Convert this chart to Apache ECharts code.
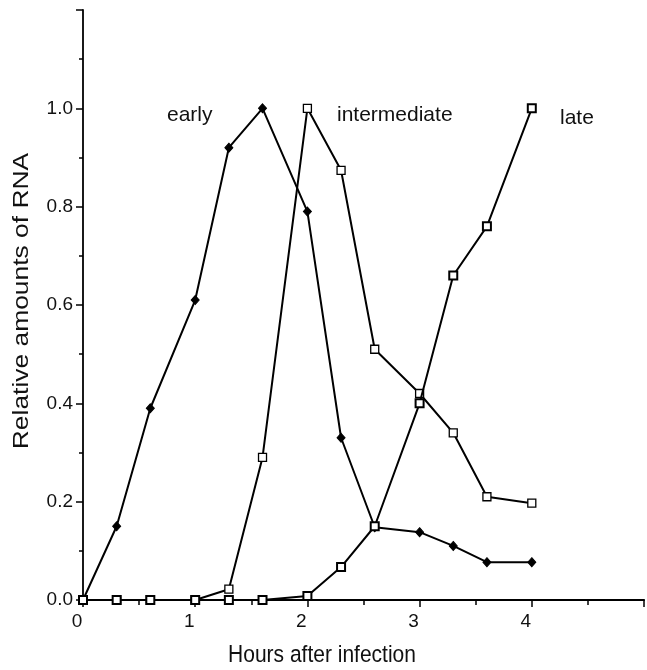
<!DOCTYPE html>
<html>
<head>
<meta charset="utf-8">
<script src="https://cdn.jsdelivr.net/npm/echarts@6/dist/echarts.min.js"></script>
<style>html,body{margin:0;padding:0;background:#fff;}#c{width:647px;height:670px;}</style>
</head>
<body>
<div id="c"></div>
<script>
// Hours after infection (sampling times)
var hours = [0, 0.3, 0.6, 1.0, 1.3, 1.6, 2.0, 2.3, 2.6, 3.0, 3.3, 3.6, 4.0];
// Relative amounts of RNA
var early        = [0, 0.15, 0.39, 0.61, 0.92, 1.0, 0.79, 0.33, 0.148, 0.138, 0.11, 0.077, 0.077];
var intermediate = [0, 0, 0, 0, 0.022, 0.29, 1.0, 0.874, 0.51, 0.42, 0.34, 0.21, 0.197];
var late         = [0, 0, 0, 0, 0, 0, 0.008, 0.067, 0.15, 0.40, 0.66, 0.76, 1.0];
var seriesNames = ['early', 'intermediate', 'late'];
var xTickLabels = ['0', '1', '2', '3', '4'];
var yTickLabels = ['0.0', '0.2', '0.4', '0.6', '0.8', '1.0'];
var xTitle = 'Hours after infection';
var yTitle = 'Relative amounts of RNA';

function pairs(ys){ return hours.map(function(h,i){ return [h, ys[i]]; }); }

var FONT = 'Liberation Sans, Arial, sans-serif';
var chart = echarts.init(document.getElementById('c'), null, {renderer:'canvas'});
var lineStyle = {color:'#000', width:2};
chart.setOption({
  animation:false,
  backgroundColor:'#fff',
  grid:{left:83, right:0, top:10, bottom:70},
  xAxis:[{
    type:'value', min:0, max:5, interval:1,
    axisLine:{show:true, onZero:false, lineStyle:{color:'#000', width:1.8}},
    axisTick:{show:true, inside:false, length:7, lineStyle:{color:'#000', width:1.5}},
    minorTick:{show:true, splitNumber:2, length:5, lineStyle:{color:'#000', width:1.5}},
    splitLine:{show:false},
    axisLabel:{color:'#111', fontSize:19, fontFamily:FONT, margin:12, padding:[0,12,0,0],
      formatter:function(v){ var i=Math.round(v); return (i<xTickLabels.length && Math.abs(v-i)<1e-6)? xTickLabels[i] : ''; }}
  },{
    type:'value', min:0, max:5, position:'top',
    axisLine:{show:true, lineStyle:{color:'#000', width:1.5}},
    axisTick:{show:false}, axisLabel:{show:false}, splitLine:{show:false}
  }],
  yAxis:{
    type:'value', min:0, max:1.2, interval:0.2,
    axisLine:{show:true, lineStyle:{color:'#000', width:1.8}},
    axisTick:{show:true, inside:false, length:7, lineStyle:{color:'#000', width:1.5}},
    minorTick:{show:true, splitNumber:2, length:4, lineStyle:{color:'#000', width:1.5}},
    splitLine:{show:false},
    axisLabel:{color:'#111', fontSize:19, fontFamily:FONT, margin:10,
      formatter:function(v){ var i=Math.round(v/0.2); return (i<yTickLabels.length && Math.abs(v-i*0.2)<1e-6)? yTickLabels[i] : ''; }}
  },
  series:[
    {name:seriesNames[0], type:'line', data:pairs(early), symbol:'diamond', symbolSize:[8,9],
     itemStyle:{color:'#000', borderColor:'#000', borderWidth:1}, lineStyle:lineStyle, z:3},
    {name:seriesNames[1], type:'line', data:pairs(intermediate), symbol:'rect', symbolSize:8,
     itemStyle:{color:'#fff', borderColor:'#000', borderWidth:1.3}, lineStyle:lineStyle, z:4},
    {name:seriesNames[2], type:'line', data:pairs(late), symbol:'rect', symbolSize:8,
     itemStyle:{color:'#fff', borderColor:'#000', borderWidth:2}, lineStyle:lineStyle, z:5}
  ],
  graphic:[
    {type:'text', left:167, top:105, style:{text:seriesNames[0], font:'21px '+FONT, fill:'#111'}},
    {type:'text', left:337, top:105, style:{text:seriesNames[1], font:'21px '+FONT, fill:'#111'}},
    {type:'text', left:560, top:108, style:{text:seriesNames[2], font:'21px '+FONT, fill:'#111'}},
    {type:'text', x:322, y:655, scaleY:1.15, style:{text:xTitle, font:'21px '+FONT, fill:'#111', textAlign:'center', textVerticalAlign:'middle'}},
    {type:'text', x:22, y:301, rotation:Math.PI/2, scaleX:1.2, style:{text:yTitle, font:'22px '+FONT, fill:'#111', textAlign:'center', textVerticalAlign:'middle'}}
  ]
});
</script>
</body>
</html>
